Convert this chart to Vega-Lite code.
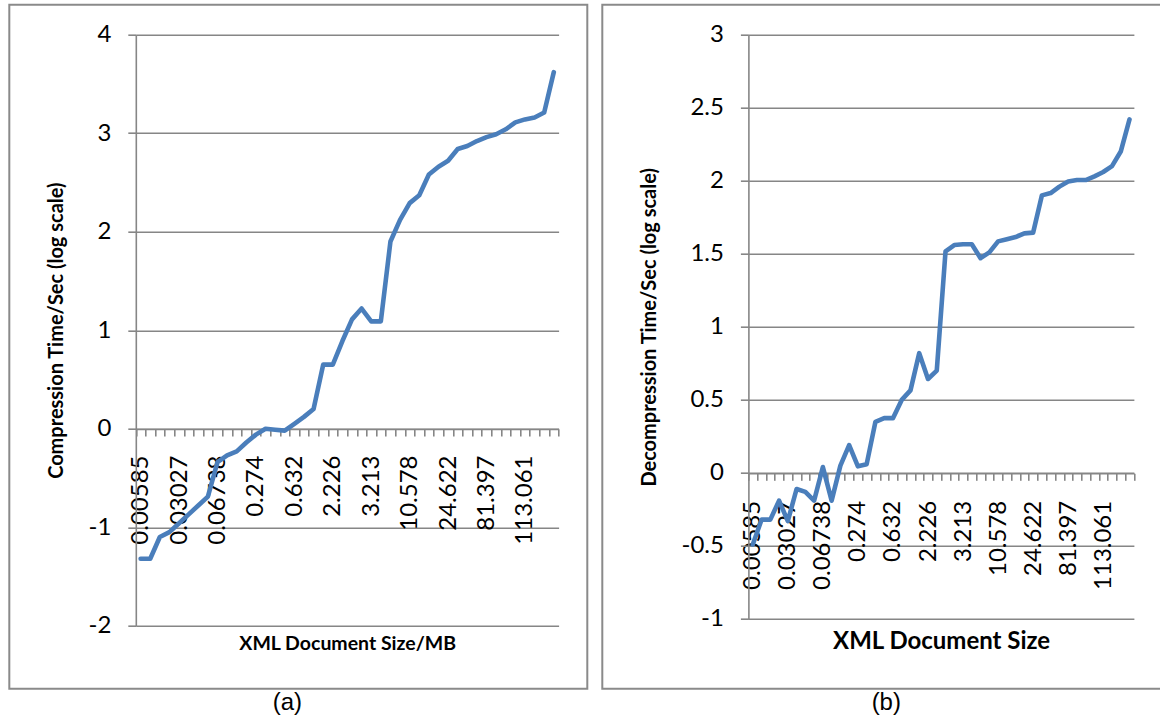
{
  "$schema": "https://vega.github.io/schema/vega-lite/v6.json",
  "background": "white",
  "padding": {"left": 8.3, "top": 3.7, "right": 0, "bottom": 0},
  "config": {
    "view": {"stroke": "#8a8a8a", "strokeWidth": 2, "fill": "white"},
    "concat": {"spacing": 13},
    "axis": {
      "labelFont": "Lato",
      "labelColor": "#000000",
      "titleFont": "Lato",
      "titleColor": "#000000",
      "titleFontWeight": "bold",
      "domainColor": "#868686",
      "domainWidth": 1.6,
      "tickColor": "#868686",
      "tickWidth": 1.6,
      "gridColor": "#868686",
      "gridWidth": 1.6,
      "labelOverlap": false,
      "labelBound": false,
      "labelFlush": false
    },
    "title": {"font": "Liberation Sans", "fontSize": 24, "fontWeight": "normal", "color": "#000000"}
  },
  "datasets": {
    "compression": [
      {"doc": 1, "time": -1.32}, {"doc": 2, "time": -1.32}, {"doc": 3, "time": -1.10}, {"doc": 4, "time": -1.05},
      {"doc": 5, "time": -0.96}, {"doc": 6, "time": -0.87}, {"doc": 7, "time": -0.78}, {"doc": 8, "time": -0.69},
      {"doc": 9, "time": -0.34}, {"doc": 10, "time": -0.27}, {"doc": 11, "time": -0.23}, {"doc": 12, "time": -0.14},
      {"doc": 13, "time": -0.06}, {"doc": 14, "time": 0.0}, {"doc": 15, "time": -0.01}, {"doc": 16, "time": -0.02},
      {"doc": 17, "time": 0.05}, {"doc": 18, "time": 0.12}, {"doc": 19, "time": 0.20}, {"doc": 20, "time": 0.65},
      {"doc": 21, "time": 0.65}, {"doc": 22, "time": 0.89}, {"doc": 23, "time": 1.11}, {"doc": 24, "time": 1.22},
      {"doc": 25, "time": 1.09}, {"doc": 26, "time": 1.09}, {"doc": 27, "time": 1.90}, {"doc": 28, "time": 2.12},
      {"doc": 29, "time": 2.29}, {"doc": 30, "time": 2.37}, {"doc": 31, "time": 2.58}, {"doc": 32, "time": 2.66},
      {"doc": 33, "time": 2.72}, {"doc": 34, "time": 2.84}, {"doc": 35, "time": 2.87}, {"doc": 36, "time": 2.92},
      {"doc": 37, "time": 2.96}, {"doc": 38, "time": 2.99}, {"doc": 39, "time": 3.04}, {"doc": 40, "time": 3.11},
      {"doc": 41, "time": 3.14}, {"doc": 42, "time": 3.16}, {"doc": 43, "time": 3.21}, {"doc": 44, "time": 3.62}
    ],
    "decompression": [
      {"doc": 1, "time": -0.49}, {"doc": 2, "time": -0.32}, {"doc": 3, "time": -0.32}, {"doc": 4, "time": -0.19},
      {"doc": 5, "time": -0.33}, {"doc": 6, "time": -0.11}, {"doc": 7, "time": -0.13}, {"doc": 8, "time": -0.19},
      {"doc": 9, "time": 0.04}, {"doc": 10, "time": -0.19}, {"doc": 11, "time": 0.05}, {"doc": 12, "time": 0.19},
      {"doc": 13, "time": 0.045}, {"doc": 14, "time": 0.06}, {"doc": 15, "time": 0.35}, {"doc": 16, "time": 0.375},
      {"doc": 17, "time": 0.375}, {"doc": 18, "time": 0.50}, {"doc": 19, "time": 0.565}, {"doc": 20, "time": 0.82},
      {"doc": 21, "time": 0.643}, {"doc": 22, "time": 0.70}, {"doc": 23, "time": 1.517}, {"doc": 24, "time": 1.56},
      {"doc": 25, "time": 1.565}, {"doc": 26, "time": 1.565}, {"doc": 27, "time": 1.47}, {"doc": 28, "time": 1.51},
      {"doc": 29, "time": 1.585}, {"doc": 30, "time": 1.60}, {"doc": 31, "time": 1.615}, {"doc": 32, "time": 1.64},
      {"doc": 33, "time": 1.645}, {"doc": 34, "time": 1.90}, {"doc": 35, "time": 1.916}, {"doc": 36, "time": 1.96},
      {"doc": 37, "time": 1.995}, {"doc": 38, "time": 2.005}, {"doc": 39, "time": 2.005}, {"doc": 40, "time": 2.03},
      {"doc": 41, "time": 2.06}, {"doc": 42, "time": 2.10}, {"doc": 43, "time": 2.20}, {"doc": 44, "time": 2.42}
    ]
  },
  "hconcat": [
    {
      "width": 578,
      "height": 684,
      "data": {"name": "compression"},
      "title": {"text": "(a)", "orient": "bottom", "dx": -11, "offset": 2},
      "mark": {"type": "line", "color": "#4a7ebb", "strokeWidth": 4.6, "strokeJoin": "round", "strokeCap": "round"},
      "encoding": {
        "x": {
          "field": "doc",
          "type": "quantitative",
          "scale": {"domain": [0.5, 44.5], "range": [126.5, 549.3], "nice": false, "zero": false},
          "axis": {
            "orient": "bottom",
            "offset": -259.7,
            "grid": false,
            "values": [0.5, 1.5, 2.5, 3.5, 4.5, 5.5, 6.5, 7.5, 8.5, 9.5, 10.5, 11.5, 12.5, 13.5, 14.5, 15.5, 16.5, 17.5, 18.5, 19.5, 20.5, 21.5, 22.5, 23.5, 24.5, 25.5, 26.5, 27.5, 28.5, 29.5, 30.5, 31.5, 32.5, 33.5, 34.5, 35.5, 36.5, 37.5, 38.5, 39.5, 40.5, 41.5, 42.5, 43.5, 44.5, 1, 5, 9, 13, 17, 21, 25, 29, 33, 37, 41],
            "labelExpr": "datum.value % 4 == 1 ? ['0.00585', '0.03027', '0.06738', '0.274', '0.632', '2.226', '3.213', '10.578', '24.622', '81.397', '113.061'][(datum.value - 1) / 4] : ''",
            "tickOpacity": {"condition": {"test": "datum.value % 1 == 0", "value": 0}, "value": 1},
            "tickSize": 7,
            "labelAngle": -90,
            "labelFontSize": 24,
            "labelPadding": 19,
            "title": "XML Document Size/MB",
            "titleFontSize": 19.5,
            "titleBaseline": "alphabetic",
            "titleY": 221
          }
        },
        "y": {
          "field": "time",
          "type": "quantitative",
          "scale": {"domain": [-2, 4], "range": [621, 30], "nice": false, "zero": false},
          "axis": {
            "orient": "left",
            "offset": -126.5,
            "grid": true,
            "values": [-2, -1, 0, 1, 2, 3, 4],
            "labelExpr": "'' + datum.value",
            "tickSize": 8,
            "labelFontSize": 24,
            "labelPadding": 17,
            "title": "Compression Time/Sec (log scale)",
            "titleFontSize": 20,
            "titleBaseline": "alphabetic",
            "titleX": -73
          }
        }
      }
    },
    {
      "width": 572,
      "height": 684,
      "data": {"name": "decompression"},
      "title": {"text": "(b)", "orient": "bottom", "dx": -2, "offset": 2},
      "mark": {"type": "line", "color": "#4a7ebb", "strokeWidth": 4.6, "strokeJoin": "round", "strokeCap": "round"},
      "encoding": {
        "x": {
          "field": "doc",
          "type": "quantitative",
          "scale": {"domain": [0.5, 44.5], "range": [146.1, 531.6], "nice": false, "zero": false},
          "axis": {
            "orient": "bottom",
            "offset": -215.4,
            "grid": false,
            "values": [0.5, 1.5, 2.5, 3.5, 4.5, 5.5, 6.5, 7.5, 8.5, 9.5, 10.5, 11.5, 12.5, 13.5, 14.5, 15.5, 16.5, 17.5, 18.5, 19.5, 20.5, 21.5, 22.5, 23.5, 24.5, 25.5, 26.5, 27.5, 28.5, 29.5, 30.5, 31.5, 32.5, 33.5, 34.5, 35.5, 36.5, 37.5, 38.5, 39.5, 40.5, 41.5, 42.5, 43.5, 44.5, 1, 5, 9, 13, 17, 21, 25, 29, 33, 37, 41],
            "labelExpr": "datum.value % 4 == 1 ? ['0.00585', '0.03027', '0.06738', '0.274', '0.632', '2.226', '3.213', '10.578', '24.622', '81.397', '113.061'][(datum.value - 1) / 4] : ''",
            "tickOpacity": {"condition": {"test": "datum.value % 1 == 0", "value": 0}, "value": 1},
            "tickSize": 7,
            "labelAngle": -90,
            "labelFontSize": 24,
            "labelPadding": 20,
            "title": "XML Document Size",
            "titleFontSize": 24,
            "titleBaseline": "alphabetic",
            "titleY": 175.4
          }
        },
        "y": {
          "field": "time",
          "type": "quantitative",
          "scale": {"domain": [-1, 3], "range": [614.3, 30], "nice": false, "zero": false},
          "axis": {
            "orient": "left",
            "offset": -146.1,
            "grid": true,
            "values": [-1, -0.5, 0, 0.5, 1, 1.5, 2, 2.5, 3],
            "labelExpr": "'' + datum.value",
            "tickSize": 8,
            "labelFontSize": 24,
            "labelPadding": 17,
            "title": "Decompression Time/Sec (log scale)",
            "titleFontSize": 20,
            "titleBaseline": "alphabetic",
            "titleX": -93.3
          }
        }
      }
    }
  ]
}
